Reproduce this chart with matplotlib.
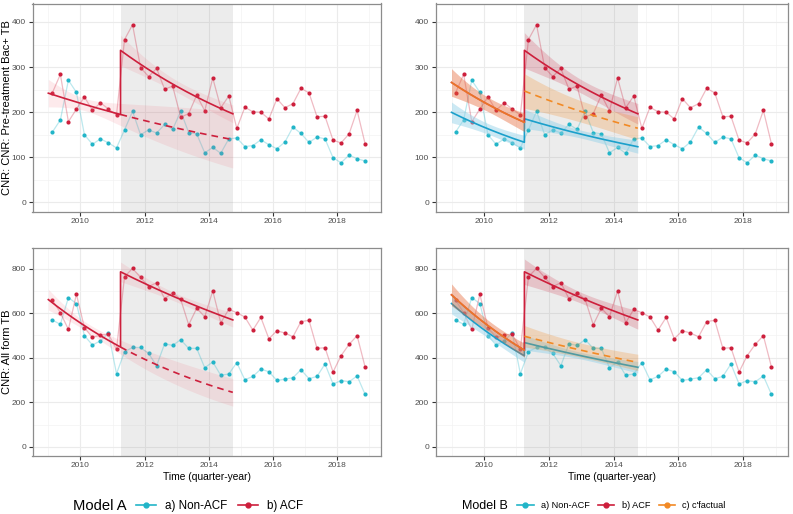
import numpy as np
import pandas as pd
import matplotlib.pyplot as plt
from matplotlib.lines import Line2D

plt.rcParams['font.family'] = ['Liberation Sans', 'DejaVu Sans']

# quarterly CNR per district group, 2009Q1 - 2018Q4
quarters = pd.period_range('2009Q1', '2018Q4', freq='Q')
t = np.asarray(quarters.year + (quarters.quarter - 0.5) / 4, dtype=float)

bac_acf = [243, 284, 179, 207, 234, 204, 221, 207, 194,
           361, 394, 299, 279, 297, 251, 258, 189, 197, 238, 203, 276, 210, 236,
           164, 211, 201, 200, 185, 230, 210, 219, 253, 243, 190, 191, 138, 132, 152, 204, 130]
bac_non = [156, 183, 271, 244, 150, 129, 141, 132, 121,
           161, 202, 150, 161, 154, 173, 162, 202, 155, 152, 110, 122, 109, 141,
           143, 124, 126, 139, 128, 119, 134, 167, 153, 133, 145, 141, 99, 88, 105, 97, 92]
all_acf = [659, 602, 527, 685, 535, 491, 502, 506, 437,
           764, 801, 761, 719, 737, 665, 692, 662, 548, 622, 584, 700, 557, 617,
           602, 583, 524, 581, 485, 521, 511, 494, 562, 568, 442, 445, 336, 409, 460, 499, 358]
all_non = [569, 550, 670, 643, 499, 457, 476, 511, 328,
           427, 446, 446, 419, 364, 463, 455, 481, 442, 442, 355, 381, 321, 327,
           378, 301, 316, 349, 337, 298, 304, 310, 346, 306, 316, 372, 282, 297, 292, 318, 235]

FIT_START, ACF_START, ACF_END = 2009.0, 2011.25, 2014.75
CI_Z = 1.2816  # 80% interval

TEAL = '#22B5C8'
RED = '#CD1F3C'
ORANGE = '#F28A25'
TEAL_LINE = '#1BA0CB'


def fit_log(X, y):
    logy = np.log(y)
    beta = np.linalg.lstsq(X, logy, rcond=None)[0]
    resid = logy - X @ beta
    s2 = resid @ resid / (len(y) - X.shape[1])
    return beta, s2 * np.linalg.inv(X.T @ X)


def predict(beta, cov, X):
    mu = np.exp(X @ beta)
    se = np.sqrt(np.einsum('ij,jk,ik->i', X, cov, X)) * mu
    return mu, mu - CI_Z * se, mu + CI_Z * se


def design_a(tt, post):
    post = np.broadcast_to(post, tt.shape).astype(float)
    ts = tt - ACF_START
    return np.column_stack([np.ones_like(tt), ts, post, post * ts])


def design_b(tt, g, post, gp):
    # gp = group x post (ACF effect); counterfactual sets it to 0
    g, post, gp = [np.broadcast_to(v, tt.shape).astype(float) for v in (g, post, gp)]
    ts = tt - ACF_START
    return np.column_stack([np.ones_like(tt), ts, g, post, post * ts, gp, gp * ts])


pre_t = np.linspace(FIT_START, ACF_START, 60)
post_t = np.linspace(ACF_START, ACF_END, 90)
in_fit = t < ACF_END
is_post = (t > ACF_START).astype(float)


def base_axes(ax, ylim, yticks, minor):
    ax.axvspan(ACF_START, ACF_END, color='#7f7f7f', alpha=0.14, lw=0, zorder=1)
    ax.set_xlim(2008.506, 2019.37)
    ax.set_ylim(*ylim)
    ax.set_xticks([2010, 2012, 2014, 2016, 2018])
    ax.set_xticks([2009, 2011, 2013, 2015, 2017, 2019], minor=True)
    ax.set_yticks(yticks)
    ax.set_yticks(minor, minor=True)
    ax.grid(which='major', color='#EBEBEB', lw=0.8, zorder=0)
    ax.grid(which='minor', color='#F3F3F3', lw=0.5, zorder=0)
    ax.set_axisbelow(True)
    ax.tick_params(which='major', length=2.75, color='#333333', labelsize=6,
                   labelcolor='#4D4D4D', pad=2)
    ax.tick_params(which='minor', length=0)
    for s in ax.spines.values():
        s.set_color('#8C8C8C')
        s.set_linewidth(0.9)


def draw_data(ax, acf, non):
    ax.plot(t, non, color=TEAL, alpha=0.3, lw=0.9, zorder=3)
    ax.plot(t, non, 'o', color=TEAL, ms=3, mec='none', zorder=3)
    ax.plot(t, acf, color=RED, alpha=0.3, lw=0.9, zorder=3)
    ax.plot(t, acf, 'o', color=RED, ms=3, mec='none', zorder=3)


def model_a(ax, acf):
    y = np.asarray(acf, float)[in_fit]
    beta, cov = fit_log(design_a(t[in_fit], is_post[in_fit]), y)
    pre = predict(beta, cov, design_a(pre_t, 0))
    post = predict(beta, cov, design_a(post_t, 1))
    cf = predict(beta, cov, design_a(post_t, 0))
    for tt, (m, lo, hi) in [(pre_t, pre), (post_t, post), (post_t, cf)]:
        ax.fill_between(tt, lo, hi, color='#F26D7D', alpha=0.14, lw=0, zorder=4)
    ax.plot(np.r_[pre_t, post_t], np.r_[pre[0], post[0]], color=RED, lw=1.2, zorder=6)
    ax.plot(post_t, cf[0], color=RED, lw=1.2, ls=(0, (4, 3)), zorder=6)


def model_b(ax, acf, non):
    n = in_fit.sum()
    tt = np.r_[t[in_fit], t[in_fit]]
    g = np.r_[np.zeros(n), np.ones(n)]
    post = np.r_[is_post[in_fit], is_post[in_fit]]
    y = np.r_[np.asarray(non, float)[in_fit], np.asarray(acf, float)[in_fit]]
    beta, cov = fit_log(design_b(tt, g, post, g * post), y)
    non_pre = predict(beta, cov, design_b(pre_t, 0, 0, 0))
    non_post = predict(beta, cov, design_b(post_t, 0, 1, 0))
    acf_pre = predict(beta, cov, design_b(pre_t, 1, 0, 0))
    acf_post = predict(beta, cov, design_b(post_t, 1, 1, 1))
    cf_post = predict(beta, cov, design_b(post_t, 1, 1, 0))
    # a) non-ACF
    for tt, (m, lo, hi) in [(pre_t, non_pre), (post_t, non_post)]:
        ax.fill_between(tt, lo, hi, color='#8FD0E8', alpha=0.45, lw=0, zorder=4)
    ax.plot(np.r_[pre_t, post_t], np.r_[non_pre[0], non_post[0]], color=TEAL_LINE, lw=1.2, zorder=5)
    # b) ACF
    for tt, (m, lo, hi) in [(pre_t, acf_pre), (post_t, acf_post)]:
        ax.fill_between(tt, lo, hi, color=RED, alpha=0.2, lw=0, zorder=5)
    ax.plot(np.r_[pre_t, post_t], np.r_[acf_pre[0], acf_post[0]], color=RED, lw=1.2, zorder=6)
    # c) counterfactual
    for tt, (m, lo, hi) in [(pre_t, acf_pre), (post_t, cf_post)]:
        ax.fill_between(tt, lo, hi, color=ORANGE, alpha=0.25, lw=0, zorder=6)
    ax.plot(pre_t, acf_pre[0], color=ORANGE, lw=1.2, alpha=0.75, zorder=7)
    ax.plot(post_t, cf_post[0], color=ORANGE, lw=1.2, ls=(0, (4, 3)), zorder=7)


fig = plt.figure(figsize=(7.93, 5.14), dpi=100)
ax_tl = fig.add_axes([32.5 / 793, 1 - 211.5 / 514, 348.5 / 793, 208 / 514])
ax_tr = fig.add_axes([435.5 / 793, 1 - 211.5 / 514, 352 / 793, 208 / 514])
ax_bl = fig.add_axes([32.5 / 793, 1 - 455.7 / 514, 348.5 / 793, 208 / 514])
ax_br = fig.add_axes([435.5 / 793, 1 - 455.7 / 514, 352 / 793, 208 / 514])

for ax in (ax_tl, ax_tr):
    base_axes(ax, (-20, 441), [0, 100, 200, 300, 400], [50, 150, 250, 350])
for ax in (ax_bl, ax_br):
    base_axes(ax, (-40, 894), [0, 200, 400, 600, 800], [100, 300, 500, 700])

draw_data(ax_tl, bac_acf, bac_non)
draw_data(ax_tr, bac_acf, bac_non)
draw_data(ax_bl, all_acf, all_non)
draw_data(ax_br, all_acf, all_non)

model_a(ax_tl, bac_acf)
model_a(ax_bl, all_acf)
model_b(ax_tr, bac_acf, bac_non)
model_b(ax_br, all_acf, all_non)

ax_tl.set_ylabel('CNR: CNR: Pre-treatment Bac+ TB', fontsize=8)
ax_bl.set_ylabel('CNR: All form TB', fontsize=8)
for ax in (ax_tl, ax_bl):
    ax.yaxis.set_label_coords(-0.06, 0.5)
ax_bl.set_xlabel('Time (quarter-year)', fontsize=7.4, labelpad=2)
ax_br.set_xlabel('Time (quarter-year)', fontsize=7.4, labelpad=2)


def key(c):
    return Line2D([], [], color=c, marker='o', ms=3.5, lw=1.2)


ly = 1 - 506 / 514
fig.text(73 / 793, ly, 'Model A', fontsize=10.6, va='center', ha='left')
fig.legend([key(TEAL), key(RED)], ['a) Non-ACF', 'b) ACF'], loc='center left',
           bbox_to_anchor=(136 / 793, ly), ncol=2, frameon=False, fontsize=8.4,
           handlelength=1.7, handletextpad=0.8, columnspacing=0.9, borderpad=0, borderaxespad=0)
fig.text(462 / 793, ly, 'Model B', fontsize=9, va='center', ha='left')
fig.legend([key(TEAL), key(RED), key(ORANGE)], ['a) Non-ACF', 'b) ACF', "c) c'factual"],
           loc='center left', bbox_to_anchor=(517 / 793, ly), ncol=3, frameon=False,
           fontsize=6.6, handlelength=1.8, handletextpad=0.8, columnspacing=0.9,
           borderpad=0, borderaxespad=0)

fig.savefig('out.png', dpi=100)
